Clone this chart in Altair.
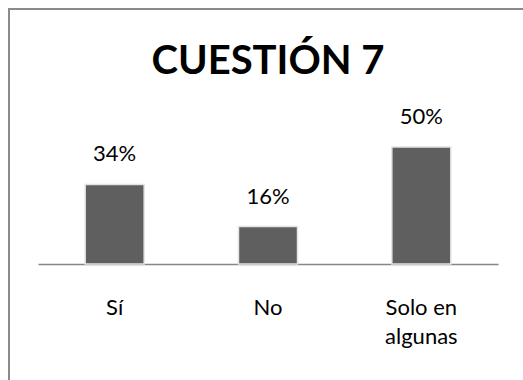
import altair as alt
import pandas as pd

categories = ["Sí", "No", "Solo en algunas"]
values = [34, 16, 50]
labels = ["34%", "16%", "50%"]

df = pd.DataFrame({"cat": categories, "val": values, "lab": labels})
FONT = "Lato"

x = alt.X("cat:N", sort=categories, title=None,
          scale=alt.Scale(paddingInner=0, paddingOuter=0),
          axis=alt.Axis(labelAngle=0, ticks=False, domainColor="#868686", domainWidth=1.5,
                        labelFontSize=22, labelFont=FONT, labelColor="#000000",
                        labelBaseline="alphabetic", labelPadding=50, labelLineHeight=29,
                        labelExpr="datum.label == 'Solo en algunas' ? ['Solo en', 'algunas'] : datum.label"))
y = alt.Y("val:Q", scale=alt.Scale(domain=[0, 50], nice=False), axis=None)

bars = alt.Chart(df).mark_bar(size=59, color="#5f5f5f", stroke="#e4e4e4", strokeWidth=1.5).encode(x=x, y=y)
text = alt.Chart(df).mark_text(dy=-23, baseline="alphabetic", fontSize=22, font=FONT, color="#000000").encode(
    x=alt.X("cat:N", sort=categories), y="val:Q", text="lab:N")

frame = alt.Chart(pd.DataFrame({"a": [0]})).mark_rect(fill=None, stroke="#8a8a8a", strokeWidth=2).encode(
    x=alt.value(-29), x2=alt.value(700), y=alt.value(-138), y2=alt.value(500))

chart = alt.layer(frame, bars, text).properties(
    width=460, height=117,
    autosize=alt.AutoSizeParams(type="none"),
    padding={"left": 38, "top": 147, "right": 25, "bottom": 116},
    title=alt.TitleParams("CUESTIÓN 7", font=FONT, fontSize=40, fontWeight="bold", color="#000000",
                          anchor="middle", offset=0, dy=106, baseline="alphabetic"),
).configure_view(stroke=None)

chart.save("out.html", embed_options={"renderer": "svg", "actions": False})
